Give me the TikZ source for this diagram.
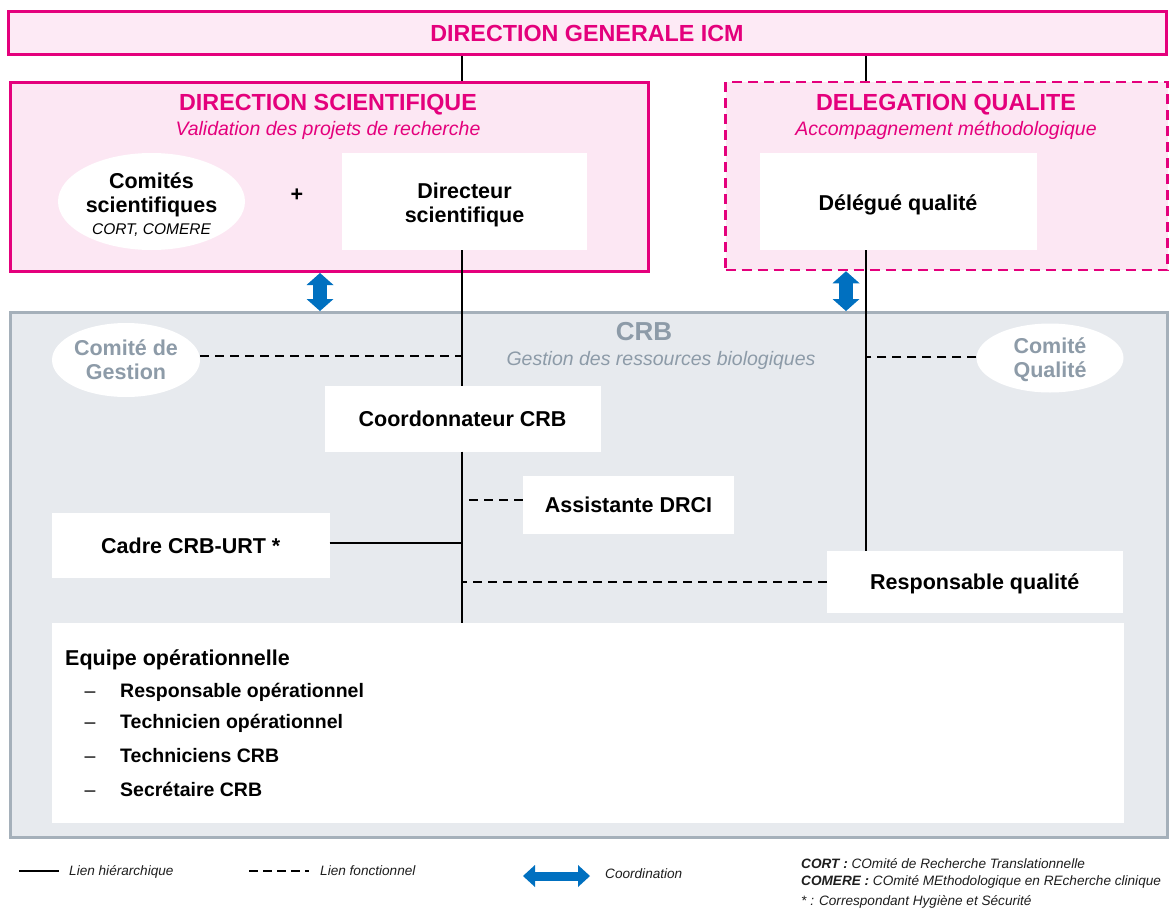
\documentclass[tikz,border=0pt]{standalone}
\usepackage{fontspec}
\setmainfont{Liberation Sans}
\usetikzlibrary{arrows.meta,shapes.geometric}
\definecolor{mag}{RGB}{228,0,124}
\definecolor{pinkA}{RGB}{253,234,245}
\definecolor{pinkB}{RGB}{252,231,243}
\definecolor{crbline}{RGB}{165,176,186}
\definecolor{crbfill}{RGB}{231,234,238}
\definecolor{crbtext}{RGB}{141,155,168}
\definecolor{coordblue}{RGB}{0,112,192}
\definecolor{legtext}{RGB}{30,30,30}
\newcommand\fsz[2]{\fontsize{#1}{#2}\selectfont}
\begin{document}
\begin{tikzpicture}[x=1pt,y=-1pt,
  every node/.style={inner sep=0pt},
  bigtitle/.style={font=\bfseries\fsz{23.3}{27}, text=mag, text depth=0pt},
  subtitle/.style={font=\itshape\fsz{19.5}{23}, text=mag, text depth=0pt},
  whitebox/.style={rectangle, fill=white, font=\bfseries\fsz{21.5}{25}, align=center, text depth=0pt},
  whiteell/.style={ellipse, fill=white, font=\bfseries\fsz{21.5}{24}, align=center, text depth=0pt},
  lbl/.style={font=\bfseries\fsz{21.5}{24}, align=center, text depth=0pt},
  hier/.style={draw=black, line width=2pt},
  func/.style={draw=black, line width=2pt, dash pattern=on 9pt off 6pt},
  coordarrow/.style={draw=coordblue, line width=14pt,
    {Triangle[length=12pt,width=27pt,line width=0pt]}-{Triangle[length=12pt,width=27pt,line width=0pt]}},
  legarrow/.style={draw=coordblue, line width=9pt,
    {Triangle[length=12pt,width=22pt,line width=0pt]}-{Triangle[length=12pt,width=22pt,line width=0pt]}},
  legend/.style={font=\itshape\fsz{13.6}{16}, text=legtext, anchor=west},
  item/.style={font=\bfseries\fsz{19.5}{22}, anchor=west, text depth=0pt},
  dashitem/.style={font=\fsz{19.5}{22}, anchor=base}
]
\useasboundingbox (0,0) rectangle (1170,910);
\fill[white] (0,0) rectangle (1170,910);

% --- top level
\node[rectangle, draw=mag, line width=3pt, fill=pinkA, minimum width=1158pt, minimum height=43pt,
      font=\bfseries\fsz{23.3}{27}, text=mag] (DG) at (587,33) {DIRECTION GENERALE ICM};

% --- Direction scientifique
\node[rectangle, draw=mag, line width=3pt, fill=pinkB, minimum width=638pt, minimum height=189pt] (DS) at (329.5,177) {};
\node[bigtitle] (DStitle) at (328,102) {DIRECTION SCIENTIFIQUE};
\node[subtitle] (DSsub) at (328,128) {Validation des projets de recherche};
\node[ellipse, fill=white, minimum width=187pt, minimum height=97pt] (cs) at (151.5,201.5) {};
\node[lbl] (cstext) at (151.5,203.5)
  {Comités\\scientifiques\\[-2pt]{\mdseries\itshape\fsz{15.5}{18}CORT, COMERE}};
\node[font=\bfseries\fsz{21.5}{25}] (plus) at (297,195) {+};
\node[rectangle, fill=white, minimum width=245pt, minimum height=97pt] (dirsci) at (464.5,201.5) {};
\node[lbl] (dirscitext) at (464.5,203) {Directeur\\scientifique};

% --- Delegation qualite
\node[rectangle, draw=mag, line width=2.5pt, dash pattern=on 10pt off 6pt, fill=pinkB,
      minimum width=442pt, minimum height=188pt] (DQ) at (946.5,176) {};
\node[bigtitle] (DQtitle) at (946,102) {DELEGATION QUALITE};
\node[subtitle] (DQsub) at (946,128) {Accompagnement méthodologique};
\node[rectangle, fill=white, minimum width=277pt, minimum height=97pt] (deleg) at (898.5,201.5) {};
\node[lbl] (delegtext) at (898,203) {Délégué qualité};

% --- CRB
\node[rectangle, draw=crbline, line width=3pt, fill=crbfill, minimum width=1157pt, minimum height=525pt] (CRB) at (589,575) {};
\node[font=\bfseries\fsz{26}{30}, text=crbtext] (CRBtitle) at (644,332) {CRB};
\node[font=\itshape\fsz{19.5}{23}, text=crbtext, text depth=0pt] (CRBsub) at (661,358) {Gestion des ressources biologiques};
\node[whiteell, text=crbtext, minimum width=148pt, minimum height=74pt] (cg) at (126,360) {Comité de\\Gestion};
\node[whiteell, text=crbtext, minimum width=147pt, minimum height=69pt] (cq) at (1050,358) {Comité\\Qualité};
\node[whitebox, minimum width=276pt, minimum height=65.5pt] (coord) at (462.5,418.75) {Coordonnateur CRB};
\node[whitebox, minimum width=211pt, minimum height=58pt] (assist) at (628.5,505) {Assistante DRCI};
\node[whitebox, minimum width=277.5pt, minimum height=65pt] (cadre) at (190.75,545.3) {Cadre CRB-URT *};
\node[whitebox, minimum width=295.5pt, minimum height=62pt] (respq) at (974.75,581.9) {Responsable qualité};
\node[rectangle, fill=white, minimum width=1072.3pt, minimum height=200.3pt] (equipe) at (587.85,722.85) {};

\node[font=\bfseries\fsz{21.5}{25}, anchor=west, text depth=0pt] (eqtitle) at (65,658) {Equipe opérationnelle};
\coordinate (dx) at (90,0);
\node[item] (i1) at (120,690.7) {Responsable opérationnel};
\node[item] (i2) at (120,721.7) {Technicien opérationnel};
\node[item] (i3) at (120,755) {Techniciens CRB};
\node[item] (i4) at (120,789) {Secrétaire CRB};
\node[dashitem] (d1) at (i1.base -| dx) {–};
\node[dashitem] (d2) at (i2.base -| dx) {–};
\node[dashitem] (d3) at (i3.base -| dx) {–};
\node[dashitem] (d4) at (i4.base -| dx) {–};

% --- connectors
\coordinate (vx) at (462,0);
\coordinate (qx) at (865.5,0);
\coordinate (ax1) at (320,0);
\coordinate (ax2) at (846,0);
\draw[hier] (DG.south -| vx) -- (DS.north -| vx);
\draw[hier] (DG.south -| qx) -- (DQ.north -| qx);
\draw[hier] (dirsci.south -| vx) -- (coord.north -| vx);
\draw[hier] (coord.south -| vx) -- (equipe.north -| vx);
\draw[hier] (deleg.south -| qx) -- (respq.north -| qx);
\draw[hier] ([yshift=2.5pt]cadre.east) -- ([yshift=2.5pt]cadre.east -| vx);
\draw[func] ([yshift=4pt]cg.east) -- ([yshift=4pt]cg.east -| vx);
\draw[func] ([yshift=1pt]cq.west) -- ([yshift=1pt]cq.west -| qx);
\draw[func] ([yshift=5pt]assist.west) -- ([yshift=5pt]assist.west -| vx);
\draw[func] (respq.west) -- (respq.west -| vx);
\draw[coordarrow] (DS.south -| ax1) -- (CRB.north -| ax1);
\draw[coordarrow] (DQ.south -| ax2) -- (CRB.north -| ax2);

% --- legend
\coordinate (la) at (19,871);
\coordinate (lb) at (59,871);
\draw[hier] (la) -- (lb);
\node[legend] (lt1) at (69,872) {Lien hiérarchique};
\coordinate (lc) at (249,871);
\coordinate (ld) at (309,871);
\draw[func, dash pattern=on 9pt off 5pt] (lc) -- (ld);
\node[legend] (lt2) at (320,871) {Lien fonctionnel};
\coordinate (le) at (523,876);
\coordinate (lf) at (590,876);
\draw[legarrow] (le) -- (lf);
\node[legend] (lt3) at (605,874) {Coordination};
\node[legend] (n1) at (801,864) {\textbf{CORT :} COmité de Recherche Translationnelle};
\node[legend] (n2) at (801,882) {\textbf{COMERE :} COmité MEthodologique en REcherche clinique};
\node[legend] (n3) at (801,902) {* : Correspondant Hygiène et Sécurité};
\end{tikzpicture}
\end{document}
